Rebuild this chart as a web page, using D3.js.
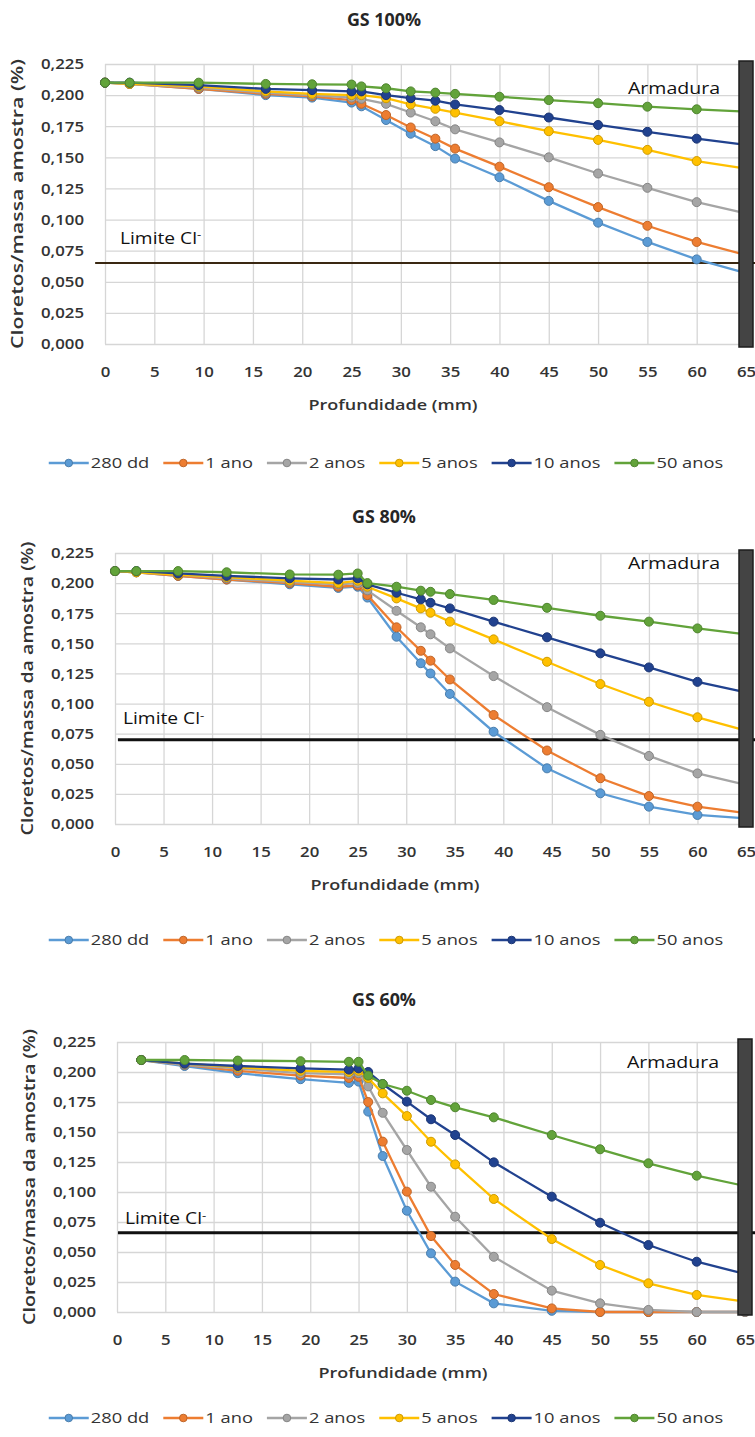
<!DOCTYPE html>
<html>
<head>
<meta charset="utf-8">
<script src="https://cdn.jsdelivr.net/npm/d3@7"></script>
<style>
  body { margin: 0; background: #fff; }
  svg { display: block; }
  text { font-family: "Open Sans", "Liberation Sans", sans-serif; }
</style>
</head>
<body>
<svg id="chart" width="755" height="1437"></svg>
<script>
// series shared by all three panels
const seriesNames = ['280 dd', '1 ano', '2 anos', '5 anos', '10 anos', '50 anos'];
const seriesColors = ['#5B9BD5', '#ED7D31', '#A5A5A5', '#FFC000', '#21428f', '#62a33a'];
const xTicks = [0, 5, 10, 15, 20, 25, 30, 35, 40, 45, 50, 55, 60, 65];
const yTicks = [0, 0.025, 0.05, 0.075, 0.1, 0.125, 0.15, 0.175, 0.2, 0.225];

// GS 100%
const depth100 = [0, 2.5, 9.5, 16.3, 21, 25, 26, 28.5, 31, 33.5, 35.5, 40, 45, 50, 55, 60, 65];
const gs100_280dd = [0.210, 0.209, 0.205, 0.200, 0.198, 0.194, 0.191, 0.180, 0.169, 0.159, 0.149, 0.134, 0.115, 0.0975, 0.082, 0.068, 0.057];
const gs100_1ano  = [0.210, 0.209, 0.205, 0.201, 0.199, 0.196, 0.193, 0.184, 0.174, 0.165, 0.157, 0.1425, 0.126, 0.110, 0.095, 0.082, 0.0715];
const gs100_2anos = [0.210, 0.209, 0.206, 0.202, 0.200, 0.198, 0.197, 0.193, 0.186, 0.179, 0.1725, 0.162, 0.150, 0.137, 0.1255, 0.114, 0.105];
const gs100_5anos = [0.210, 0.209, 0.207, 0.203, 0.201, 0.200, 0.200, 0.1975, 0.1925, 0.189, 0.186, 0.179, 0.171, 0.164, 0.156, 0.147, 0.141];
const gs100_10anos = [0.210, 0.210, 0.208, 0.205, 0.204, 0.203, 0.203, 0.200, 0.1975, 0.1955, 0.1925, 0.188, 0.182, 0.176, 0.1705, 0.165, 0.160];
const gs100_50anos = [0.210, 0.210, 0.210, 0.209, 0.2087, 0.2085, 0.207, 0.2055, 0.203, 0.202, 0.201, 0.1987, 0.196, 0.1935, 0.1907, 0.1886, 0.1867];
const limit100 = 0.065;

// GS 80%
const depth80 = [0, 2.2, 6.5, 11.5, 18, 23, 25, 26, 29, 31.5, 32.5, 34.5, 39, 44.5, 50, 55, 60, 65];
const gs80_280dd = [0.210, 0.209, 0.206, 0.203, 0.199, 0.196, 0.197, 0.188, 0.1555, 0.1335, 0.125, 0.108, 0.0766, 0.0462, 0.0255, 0.0144, 0.0075, 0.0047];
const gs80_1ano  = [0.210, 0.209, 0.206, 0.203, 0.200, 0.197, 0.198, 0.190, 0.1633, 0.1438, 0.1356, 0.120, 0.0905, 0.061, 0.038, 0.0232, 0.0144, 0.009];
const gs80_2anos = [0.210, 0.209, 0.207, 0.204, 0.201, 0.199, 0.200, 0.194, 0.177, 0.1633, 0.1575, 0.1458, 0.1228, 0.097, 0.074, 0.0565, 0.042, 0.0324];
const gs80_5anos = [0.210, 0.209, 0.207, 0.205, 0.202, 0.200, 0.202, 0.197, 0.1873, 0.179, 0.1754, 0.168, 0.1533, 0.1347, 0.1162, 0.1015, 0.0886, 0.0775];
const gs80_10anos = [0.210, 0.210, 0.208, 0.206, 0.204, 0.203, 0.204, 0.199, 0.192, 0.1865, 0.1837, 0.179, 0.168, 0.155, 0.1417, 0.130, 0.118, 0.1093];
const gs80_50anos = [0.210, 0.210, 0.210, 0.209, 0.2072, 0.207, 0.208, 0.200, 0.197, 0.1937, 0.1928, 0.1909, 0.186, 0.1795, 0.1729, 0.168, 0.1624, 0.1575];
const limit80 = 0.070;

// GS 60%
const depth60 = [2.5, 7, 12.5, 19, 24, 25, 26, 27.5, 30, 32.5, 35, 39, 45, 50, 55, 60, 65];
const gs60_280dd = [0.210, 0.205, 0.199, 0.194, 0.191, 0.192, 0.167, 0.130, 0.0844, 0.0489, 0.0253, 0.0072, 0.001, 0, 0, 0, 0];
const gs60_1ano  = [0.210, 0.206, 0.201, 0.197, 0.195, 0.196, 0.175, 0.142, 0.1003, 0.0633, 0.0392, 0.015, 0.003, 0, 0, 0, 0];
const gs60_2anos = [0.210, 0.206, 0.203, 0.199, 0.198, 0.199, 0.188, 0.166, 0.135, 0.1044, 0.0794, 0.046, 0.0178, 0.0072, 0.0017, 0, 0];
const gs60_5anos = [0.210, 0.207, 0.204, 0.201, 0.200, 0.201, 0.195, 0.1822, 0.1633, 0.1419, 0.123, 0.0942, 0.0608, 0.0392, 0.0239, 0.0142, 0.0086];
const gs60_10anos = [0.210, 0.207, 0.205, 0.203, 0.202, 0.203, 0.200, 0.190, 0.1753, 0.1606, 0.1475, 0.1247, 0.0961, 0.0744, 0.0558, 0.0419, 0.0317];
const gs60_50anos = [0.210, 0.210, 0.2095, 0.209, 0.2085, 0.2085, 0.197, 0.190, 0.1844, 0.1767, 0.1706, 0.1622, 0.1475, 0.1356, 0.1239, 0.1136, 0.105];
const limit60 = 0.066;

const W = 755;
var svg = d3.select('#chart');
svg.append('rect').attr('width', W).attr('height', 1437).attr('fill', '#fff');

// the original picture is stretched sideways, so widen glyphs a little
function stretch(sel, k) {
    sel.each(function() {
        var w = this.getComputedTextLength();
        d3.select(this).attr('textLength', w * k).attr('lengthAdjust', 'spacingAndGlyphs');
    });
}

var panels = [
    {title: 'GS 100%', yTitle: 'Cloretos/massa amostra (%)', yTitleLen: 290, depth: depth100,
     values: [gs100_280dd, gs100_1ano, gs100_2anos, gs100_5anos, gs100_10anos, gs100_50anos],
     limit: limit100, limitStart: -1, limitW: 2, limitColor: '#3a2812',
     top: 64, bottom: 344, left: 105, right: 746, titleY: 20, axisTitleX: 393, legendY: 463,
     limTextDx: 15, limTextDy: -25, armY: 88},
    {title: 'GS 80%', yTitle: 'Cloretos/massa da amostra (%)', yTitleLen: 294, depth: depth80,
     values: [gs80_280dd, gs80_1ano, gs80_2anos, gs80_5anos, gs80_10anos, gs80_50anos],
     limit: limit80, limitStart: 0.3, limitW: 3, limitColor: '#111',
     top: 553, bottom: 824, left: 115, right: 746, titleY: 517, axisTitleX: 395, legendY: 940,
     limTextDx: 8, limTextDy: -21, armY: 563},
    {title: 'GS 60%', yTitle: 'Cloretos/massa da amostra (%)', yTitleLen: 296, depth: depth60,
     values: [gs60_280dd, gs60_1ano, gs60_2anos, gs60_5anos, gs60_10anos, gs60_50anos],
     limit: limit60, limitStart: 0.1, limitW: 3, limitColor: '#111',
     top: 1042, bottom: 1312, left: 117, right: 745, titleY: 1000, axisTitleX: 403, legendY: 1418,
     limTextDx: 8, limTextDy: -14, armY: 1062}
];

panels.forEach(drawPanel);

function drawPanel(p) {
    var x = d3.scaleLinear().domain([0, 65]).range([p.left, p.right]);
    var y = d3.scaleLinear().domain([0, 0.225]).range([p.bottom, p.top]);
    var g = svg.append('g');

    // vertical grid + x labels
    var xa = g.append('g')
        .attr('transform', 'translate(0,' + p.bottom + ')')
        .call(d3.axisBottom(x).tickValues(xTicks).tickSize(-(p.bottom - p.top)).tickFormat(d3.format('d')));
    xa.select('.domain').remove();
    xa.selectAll('line').attr('stroke', '#d6d6d6').attr('stroke-width', 1.3);
    xa.selectAll('text').attr('y', 28).attr('dy', '0.35em')
        .attr('fill', '#333').attr('font-size', 15).attr('font-weight', 600).call(stretch, 1.12);

    // horizontal grid + y labels
    var ya = g.append('g')
        .attr('transform', 'translate(' + p.left + ',0)')
        .call(d3.axisLeft(y).tickValues(yTicks).tickSize(-(p.right - p.left))
            .tickPadding(21).tickFormat(d => d3.format('.3f')(d).replace('.', ',')));
    ya.select('.domain').remove();
    ya.selectAll('line').attr('stroke', '#d6d6d6').attr('stroke-width', 1.3);
    ya.selectAll('text').attr('fill', '#333').attr('font-size', 15).attr('font-weight', 600)
        .call(stretch, 1.12);

    // chloride limit
    g.append('line')
        .attr('x1', x(p.limitStart)).attr('x2', W)
        .attr('y1', y(p.limit)).attr('y2', y(p.limit))
        .attr('stroke', p.limitColor).attr('stroke-width', p.limitW);

    var lim = g.append('text')
        .attr('x', x(0) + p.limTextDx).attr('y', y(p.limit) + p.limTextDy)
        .attr('dy', '0.35em').attr('font-size', 16).attr('fill', '#111');
    lim.append('tspan').text('Limite Cl');
    lim.append('tspan').attr('font-size', 11).attr('dy', '-0.5em').text('-');
    lim.call(stretch, 1.2);

    // series
    var line = d3.line().x(d => x(d.x)).y(d => y(d.v));
    p.values.forEach(function(vals, i) {
        var pts = p.depth.map((d, j) => ({x: d, v: vals[j]}));
        var c = seriesColors[i];
        g.append('path').datum(pts)
            .attr('d', line).attr('fill', 'none')
            .attr('stroke', c).attr('stroke-width', 2.3);
        g.append('g').selectAll('circle')
            .data(pts)
            .enter()
            .append('circle')
            .attr('cx', d => x(d.x)).attr('cy', d => y(d.v)).attr('r', 4.5)
            .attr('fill', c).attr('stroke', d3.color(c).darker(0.6)).attr('stroke-width', 1);
    });

    // rebar
    g.append('rect')
        .attr('x', x(65) - 7).attr('width', 14)
        .attr('y', p.top - 3).attr('height', p.bottom - p.top + 6)
        .attr('fill', '#444').attr('stroke', '#1c1c1c').attr('stroke-width', 1.5);
    g.append('text')
        .attr('x', x(65) - 26).attr('y', p.armY).attr('dy', '0.35em')
        .attr('text-anchor', 'end').attr('font-size', 16).attr('fill', '#111')
        .text('Armadura').call(stretch, 1.22);

    // titles
    g.append('text')
        .attr('x', 384).attr('y', p.titleY).attr('dy', '0.35em')
        .attr('text-anchor', 'middle').attr('font-size', 17).attr('font-weight', 700).attr('fill', '#262626')
        .text(p.title).call(stretch, 1.05);
    g.append('text')
        .attr('x', p.axisTitleX).attr('y', p.bottom + 61).attr('dy', '0.35em')
        .attr('text-anchor', 'middle').attr('font-size', 15).attr('font-weight', 600).attr('fill', '#333')
        .text('Profundidade (mm)').call(stretch, 1.2);
    g.append('text')
        .attr('transform', 'translate(' + (p.left - 88) + ',' + ((p.top + p.bottom) / 2) + ') rotate(-90)')
        .attr('dy', '0.35em').attr('text-anchor', 'middle')
        .attr('font-size', 16).attr('font-weight', 600).attr('fill', '#333')
        .attr('textLength', p.yTitleLen).attr('lengthAdjust', 'spacingAndGlyphs')
        .text(p.yTitle);

    // legend
    var leg = g.append('g');
    var cursor = 0;
    seriesNames.forEach(function(name, i) {
        var it = leg.append('g').attr('transform', 'translate(' + cursor + ',0)');
        it.append('line').attr('x1', 0).attr('x2', 40).attr('stroke', seriesColors[i]).attr('stroke-width', 2.3);
        it.append('circle').attr('cx', 20).attr('r', 3.8).attr('fill', seriesColors[i])
            .attr('stroke', d3.color(seriesColors[i]).darker(0.6)).attr('stroke-width', 1);
        var t = it.append('text').attr('x', 42).attr('dy', '0.35em')
            .attr('font-size', 15).attr('fill', '#333').text(name).call(stretch, 1.22);
        cursor += 42 + +t.attr('textLength') + 14;
    });
    cursor -= 14;
    leg.attr('transform', 'translate(' + (386 - cursor / 2) + ',' + p.legendY + ')');
}
</script>
</body>
</html>
